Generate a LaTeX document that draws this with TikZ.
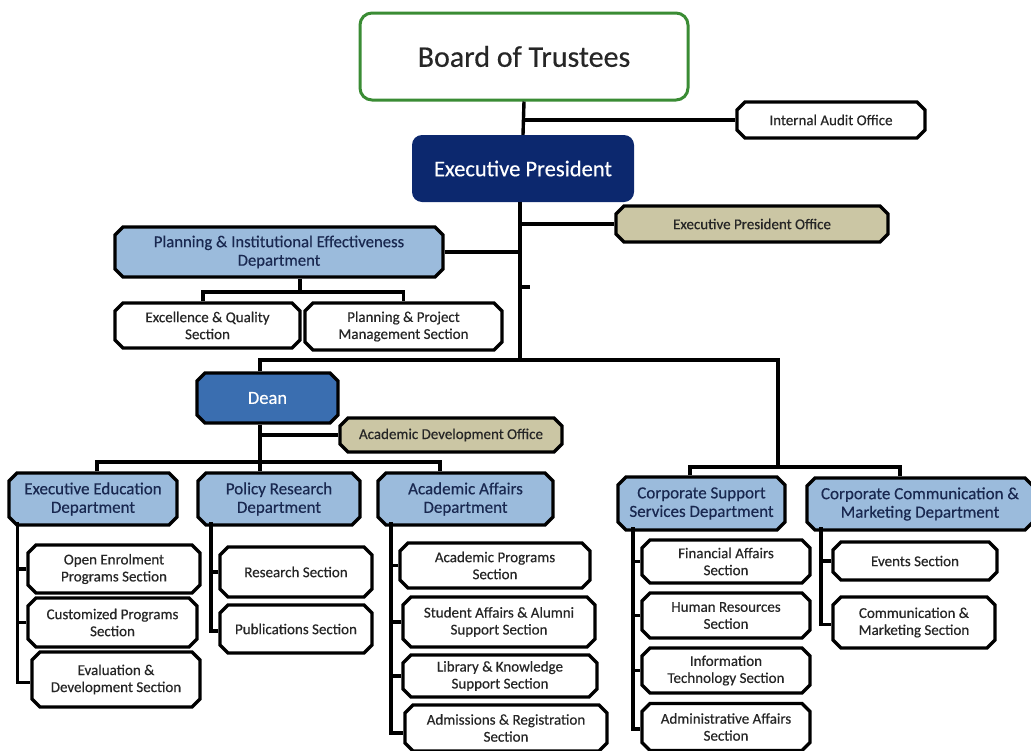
\documentclass[tikz,border=0pt]{standalone}
\usepackage{fontspec}
\setmainfont{Carlito}[FakeBold=0.4]
\usetikzlibrary{shapes.misc, positioning}

\definecolor{boardgreen}{RGB}{58,140,52}
\definecolor{presnavy}{RGB}{12,40,110}
\definecolor{deanblue}{RGB}{58,110,176}
\definecolor{deptblue}{RGB}{155,187,220}
\definecolor{officetan}{RGB}{203,198,164}
\definecolor{depttext}{RGB}{25,40,80}

\tikzset{
  unit/.style = {chamfered rectangle, chamfered rectangle xsep=4pt,
    chamfered rectangle ysep=4pt, draw, line width=3.4pt, inner sep=0pt,
    align=center, text=black!85, font=\fontsize{15}{17}\selectfont},
  size/.style 2 args = {minimum width=#1pt, minimum height=#2pt},
  section/.style = {unit, fill=white},
  dept/.style = {unit, fill=deptblue, text=depttext,
    font=\fontsize{17}{18.5}\selectfont},
  office/.style = {unit, fill=officetan, text=black!85},
  link/.style = {line width=3.4pt},
}

\begin{document}
\begin{tikzpicture}[x=1pt, y=-1pt]
    \useasboundingbox (0,0) rectangle (1031,750);

    % top of the chart
    \node (board) [draw=boardgreen, line width=3pt, rounded corners=12pt,
      size={328}{87}, text=black!85, font=\fontsize{30}{34}\selectfont]
      at (524,56.5) {Board of Trustees};
    \node (ep) [fill=presnavy, rounded corners=10pt, size={222}{67}, text=white,
      font=\fontsize{22.5}{26}\selectfont] at (523,168.5) {Executive President};
    \node (iao) [section, size={188}{36}] at (831,120) {Internal Audit Office};
    \node (epo) [office, size={272}{36}] at (752,224)
      {Executive President Office};
    \node (pied) [dept, size={328}{50}, font=\fontsize{16.7}{18.5}\selectfont]
      at (279,252) {Planning \& Institutional Effectiveness\\Department};
    \node (eqs) [section, size={185}{45}] at (207.5,325.5)
      {Excellence \& Quality\\Section};
    \node (ppm) [section, size={197}{47}] at (403.5,326.5)
      {Planning \& Project\\Management Section};

    % dean and academic side
    \node (dean) [unit, fill=deanblue, text=white, size={141}{50},
      font=\fontsize{18.5}{21}\selectfont] at (267.5,398) {Dean};
    \node (ado) [office, size={222}{34}] at (451,435)
      {Academic Development Office};
    \node (eed) [dept, size={168}{52}] at (93,499)
      {Executive Education\\Department};
    \node (prd) [dept, size={162}{52}] at (279,499)
      {Policy Research\\Department};
    \node (aad) [dept, size={175}{52}] at (465.5,499)
      {Academic Affairs\\Department};

    \node (oep) [section, size={172}{48}] at (114,569)
      {Open Enrolment\\Programs Section};
    \node (cps) [section, size={169}{49}] at (112.5,622.5)
      {Customized Programs\\Section};
    \node (eds) [section, size={168}{55}] at (116,679.5)
      {Evaluation \&\\Development Section};
    \node (res) [section, size={152}{50}] at (296,572) {Research Section};
    \node (pub) [section, size={152}{48}] at (296,629) {Publications Section};
    \node (aps) [section, size={190}{45}] at (495,565.5)
      {Academic Programs\\Section};
    \node (sas) [section, size={192}{50}] at (499,622)
      {Student Affairs \& Alumni\\Support Section};
    \node (lks) [section, size={194}{42}] at (500,676)
      {Library \& Knowledge\\Support Section};
    \node (ars) [section, size={202}{46}] at (506,728)
      {Admissions \& Registration\\Section};

    % corporate side
    \node (cssd) [dept, size={167}{53}] at (701.5,503.5)
      {Corporate Support\\Services Department};
    \node (ccmd) [dept, size={226}{52}] at (920,504)
      {Corporate Communication \&\\Marketing Department};
    \node (fas) [section, size={168}{43}] at (726,561.5)
      {Financial Affairs\\Section};
    \node (hrs) [section, size={168}{45}] at (726,615.5)
      {Human Resources\\Section};
    \node (its) [section, size={168}{45}] at (726,670.5)
      {Information\\Technology Section};
    \node (aas) [section, size={168}{47}] at (726,727)
      {Administrative Affairs\\Section};
    \node (evs) [section, size={164}{38}] at (915,561) {Events Section};
    \node (cms) [section, size={162}{51}] at (914,622.5)
      {Communication \&\\Marketing Section};

    % trunk and buses
    \coordinate (tk) at (520,360);
    \coordinate (stub) at (520,287);
    \coordinate (pb) at (300,292);
    \coordinate (db) at (260,360);
    \coordinate (ab) at (260,462);
    \coordinate (cb) at (778,467);

    \draw[link] (board.south) -- (ep.north);
    \draw[link] (board.south |- iao.west) -- (iao.west);
    \draw[link] (tk |- ep.south) -- (tk);
    \draw[link] (epo.west -| tk) -- (epo.west);
    \draw[link] (pied.east) -- (pied.east -| tk);
    \draw[link] (stub) -- ++(10,0);
    \draw[link] (pb |- pied.south) -- (pb);
    \draw[link] ([xshift=-4.5pt]eqs.north) |- (pb) -| (ppm.north);
    \draw[link] (db |- dean.north) |- (tk) -| (cb);

    \draw[link] (db |- dean.south) -- (db |- prd.north);
    \draw[link] (ado.west -| db) -- (ado.west);
    \draw[link] ([xshift=4pt]eed.north) |- (ab) -| ([xshift=-25.5pt]aad.north);
    \draw[link] ([xshift=-11.5pt]cssd.north) |- (cb) -| ([xshift=-20pt]ccmd.north);

    % spines down to the sections
    \coordinate (s1) at ([xshift=6pt]eed.south west);
    \coordinate (s2) at ([xshift=10pt]prd.south west);
    \coordinate (s3) at ([xshift=10pt]aad.south west);
    \coordinate (s4) at ([xshift=12pt]cssd.south west);
    \coordinate (s5) at ([xshift=11pt]ccmd.south west);

    \draw[link] (s1) |- ([yshift=-3pt]eds.west);
    \draw[link] (s2) |- ([yshift=-2pt]pub.west);
    \draw[link] (s3) |- ([yshift=-5pt]ars.west);
    \draw[link] (s4) |- ([yshift=-2pt]aas.west);
    \draw[link] (s5) |- ([yshift=-2pt]cms.west);
    \foreach \s in {oep, cps} \draw[link] (\s.west) -- (\s.west -| s1);
    \foreach \s in {res} \draw[link] (\s.west) -- (\s.west -| s2);
    \foreach \s in {aps, sas, lks} \draw[link] (\s.west) -- (\s.west -| s3);
    \foreach \s in {fas, hrs, its} \draw[link] (\s.west) -- (\s.west -| s4);
    \foreach \s in {evs} \draw[link] (\s.west) -- (\s.west -| s5);

\end{tikzpicture}
\end{document}
